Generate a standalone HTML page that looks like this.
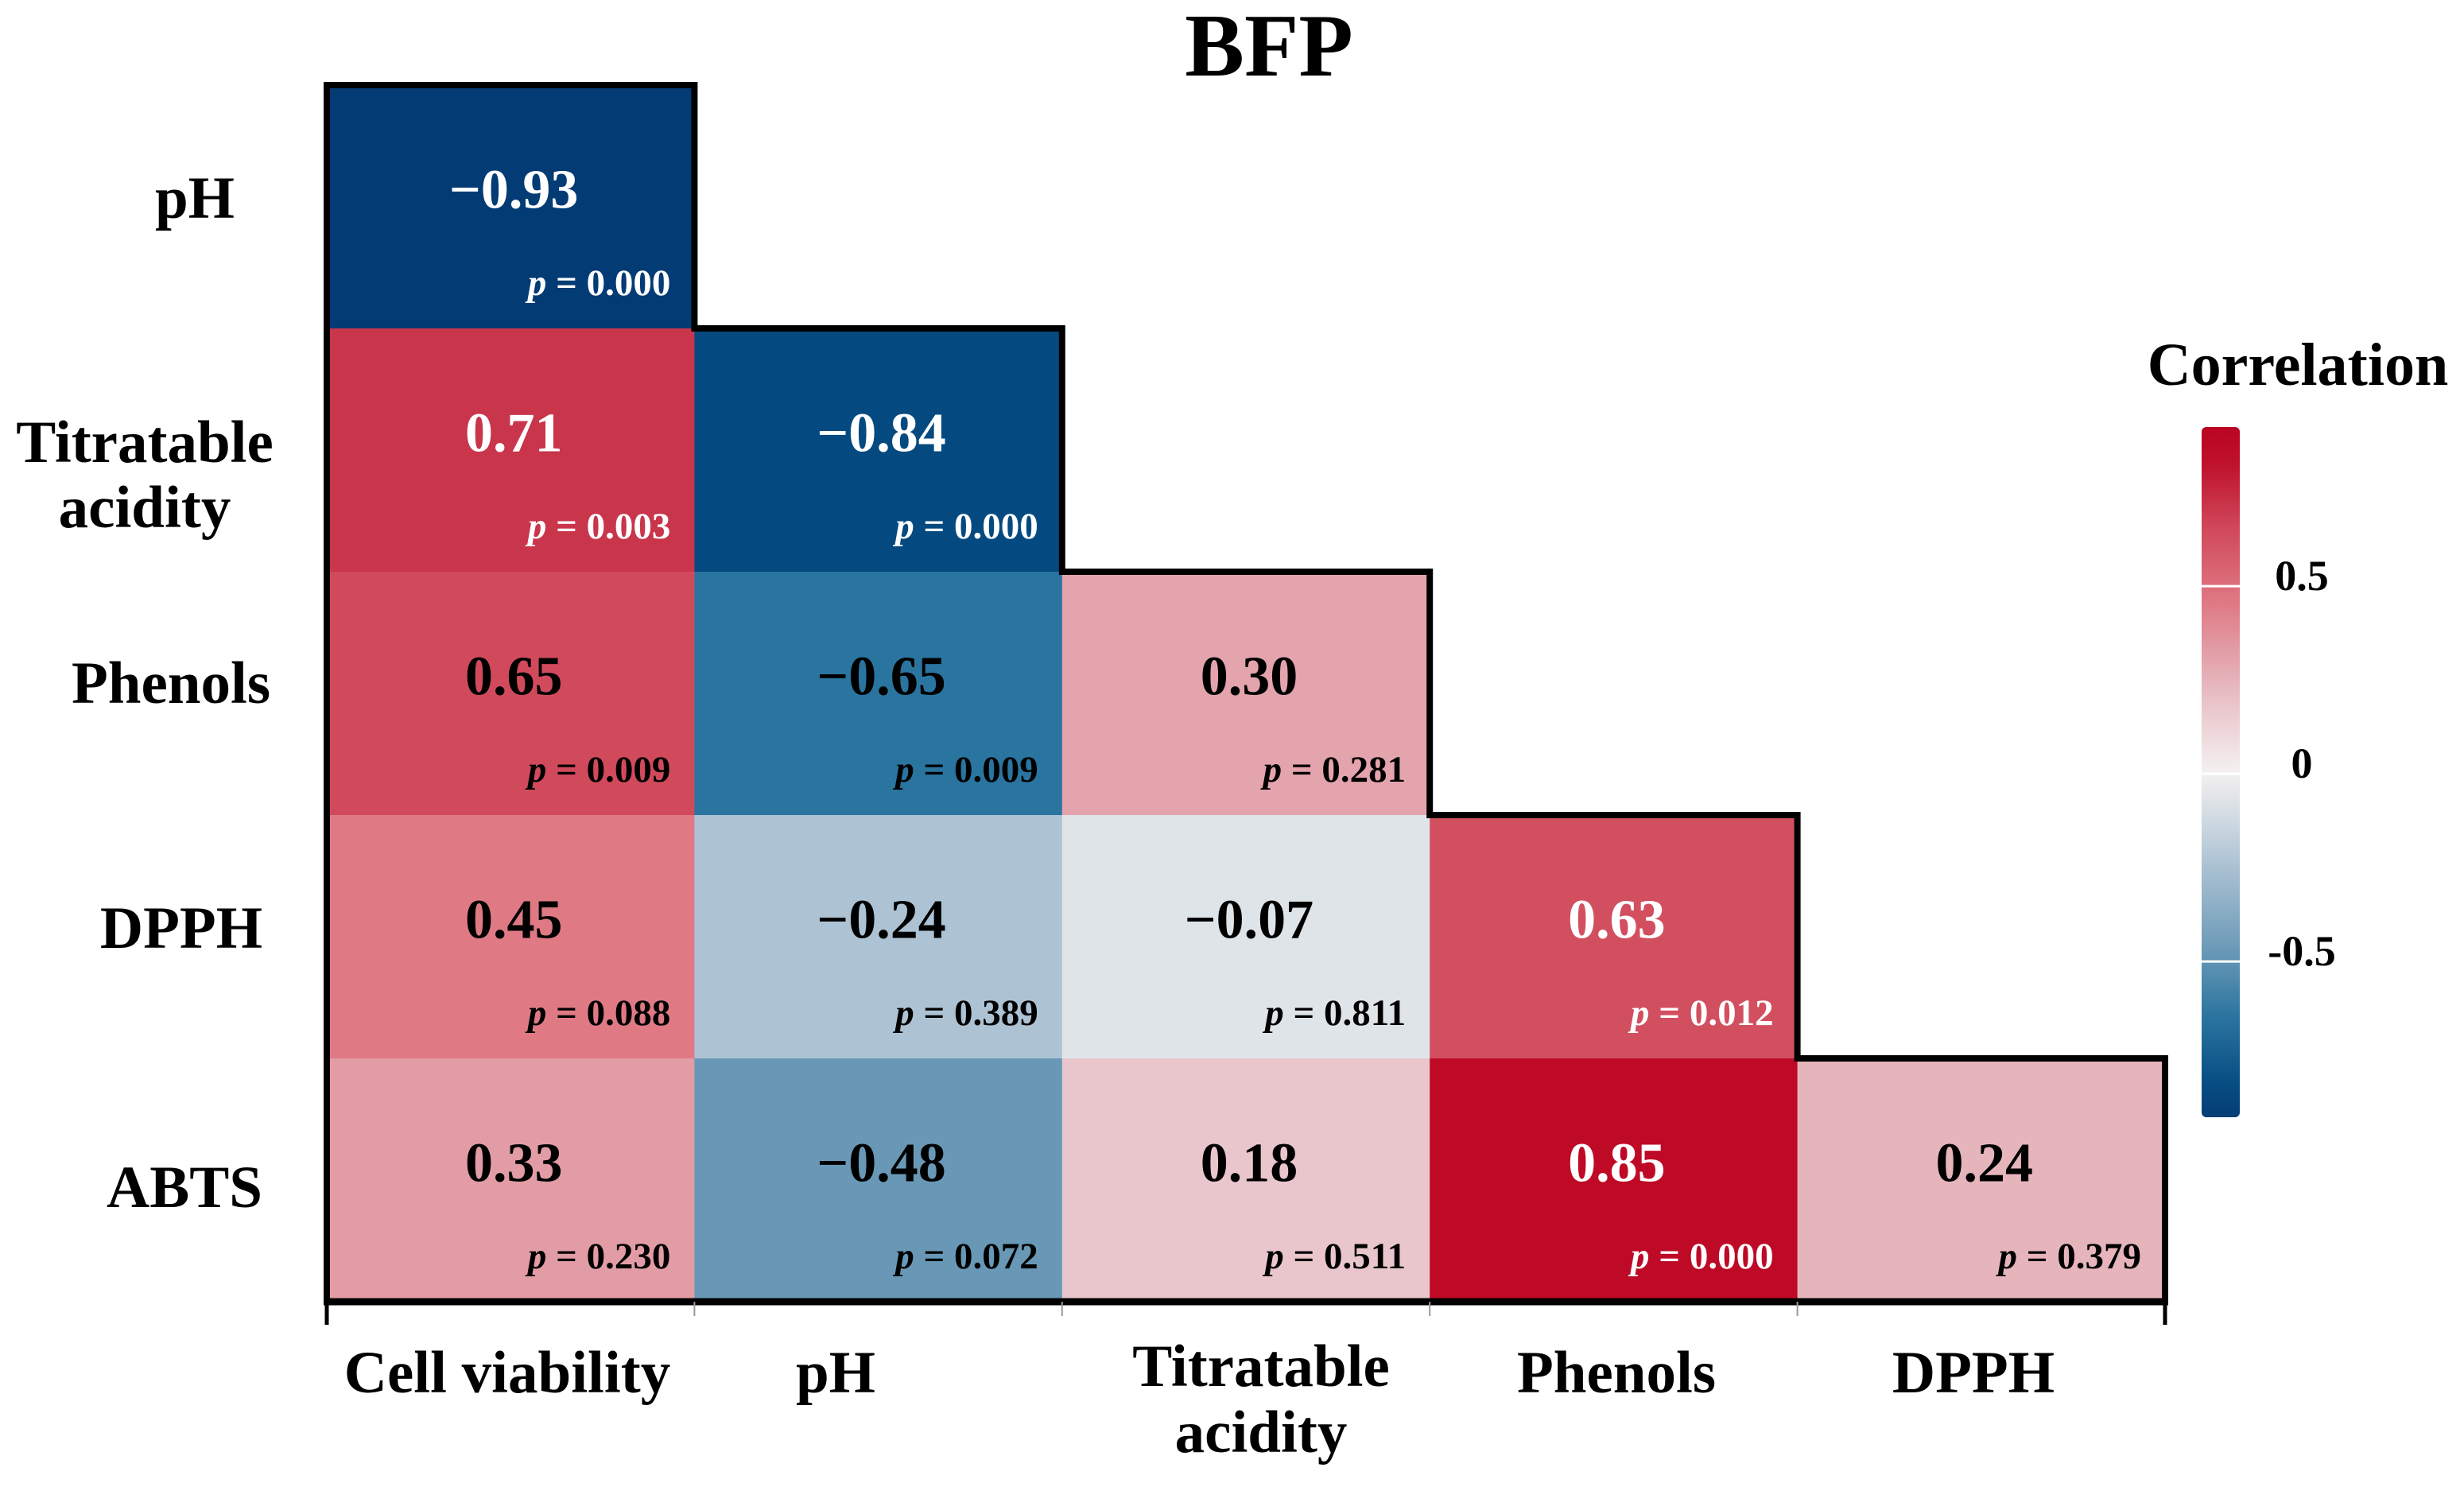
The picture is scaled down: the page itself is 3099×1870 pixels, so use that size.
<!DOCTYPE html>
<html><head><meta charset="utf-8"><style>
html,body{margin:0;padding:0;background:#fff;}
svg{display:block;font-family:"Liberation Serif",serif;}
</style></head><body>
<svg id="chart" width="3099" height="1870" viewBox="0 0 3099 1870" xmlns="http://www.w3.org/2000/svg">
<text x="1596" y="95" text-anchor="middle" font-size="112" font-weight="bold">BFP</text>
<g id="cells"></g>
<g id="outline"></g>
<g id="labels"></g>
<g id="legend"></g>
</svg>
<script>
const rowLabels = [["pH"],["Titratable","acidity"],["Phenols"],["DPPH"],["ABTS"]];
const colLabels = [["Cell viability"],["pH"],["Titratable","acidity"],["Phenols"],["DPPH"]];
const rVals = [
  [-0.93],
  [0.71,-0.84],
  [0.65,-0.65,0.30],
  [0.45,-0.24,-0.07,0.63],
  [0.33,-0.48,0.18,0.85,0.24]
];
const pVals = [
  ["0.000"],
  ["0.003","0.000"],
  ["0.009","0.009","0.281"],
  ["0.088","0.389","0.811","0.012"],
  ["0.230","0.072","0.511","0.000","0.379"]
];
const whiteText = [
  [1],[1,1],[0,0,0],[0,0,0,1],[0,0,0,1,0]
];
const legendTicks = [0.5,0,-0.5];
const legendTickLabels = ["0.5","0","-0.5"];

const NS="http://www.w3.org/2000/svg";
const x0=411,x1=2723,y0=107,y1=1637;
const cw=(x1-x0)/5, rh=(y1-y0)/5;
const xCol=i=>x0+i*cw, yRow=j=>y0+j*rh;
const stops=[[-1,[3,48,106]],[-0.84,[4,74,128]],[-0.65,[42,116,160]],[-0.48,[104,152,182]],[-0.24,[173,195,212]],[0,[244,241,241]],[0.18,[233,198,203]],[0.3,[227,164,173]],[0.45,[223,122,133]],[0.65,[209,74,92]],[0.71,[201,53,75]],[0.85,[190,10,38]],[1,[180,0,30]]];
function color(v){
  for(let i=0;i<stops.length-1;i++){
    const [a,ca]=stops[i],[b,cb]=stops[i+1];
    if(v>=a&&v<=b){const t=(v-a)/(b-a);return "rgb("+ca.map((c,k)=>Math.round(c+(cb[k]-c)*t)).join(",")+")";}
  }
  return v<0?"rgb(3,48,106)":"rgb(180,0,30)";
}
function mk(tag,attrs,parent){const e=document.createElementNS(NS,tag);for(const k in attrs)e.setAttribute(k,attrs[k]);parent.appendChild(e);return e;}
const cells=document.getElementById('cells');
rVals.forEach((row,j)=>row.forEach((v,i)=>{
  const r=mk('rect',{x:xCol(i),y:yRow(j),width:cw+1,height:rh+1,fill:color(v)},cells);
  
  
  const tc=whiteText[j][i]?"#fff":"#000";
  const t=mk('text',{x:xCol(i)+cw/2+4,y:yRow(j)+rh*0.44+20,'text-anchor':'middle','font-size':70,'font-weight':'bold',fill:tc},cells);
  t.textContent=(v<0?"\u2212":"")+Math.abs(v).toFixed(2);
  
  
  const p=mk('text',{x:xCol(i)+cw-30,y:yRow(j)+rh-42,'text-anchor':'end','font-size':47,'font-weight':'bold',fill:tc},cells);
  p.innerHTML='<tspan font-style="italic">p</tspan> = '+pVals[j][i];
  
  
}));
const ol=document.getElementById('outline');
let d="M"+x0+","+y1+" L"+x0+","+yRow(0);
for(let k=0;k<5;k++){d+=" L"+xCol(k+1)+","+yRow(k)+" L"+xCol(k+1)+","+yRow(k+1);}
const path=mk('path',{d:d,fill:'none',stroke:'#000','stroke-width':8,'stroke-linejoin':'miter'},ol);


const ax=mk('line',{x1:x0-4,y1:y1,x2:x1+4,y2:y1,stroke:'#000','stroke-width':9},ol);


for(let k=0;k<=5;k++){
  const edge=(k==0||k==5);
  const tk=mk('line',{x1:xCol(k),y1:y1,x2:xCol(k),y2:edge?1666:1655,stroke:edge?'#000':'#999','stroke-width':edge?5:2},ol);
  
  
}
const lg=document.getElementById('labels');
const rowLx=[245,182,215,228,232];
const rowDy=[-10,38,-12,-10,10];
rowLabels.forEach((lines,j)=>{
  const cy=yRow(j)+rh*0.5;
  lines.forEach((s,n)=>{
    const t=mk('text',{x:rowLx[j],y:cy+24+rowDy[j]+(n-(lines.length-1)/2)*82-(lines.length>1?6:0),'text-anchor':'middle','font-size':75,'font-weight':'bold'},lg);
    t.textContent=s;
    
    
  });
});
colLabels.forEach((lines,i)=>{
  const cx=[648,1061,1596,2043,2492][i]-10;
  lines.forEach((s,n)=>{
    const t=mk('text',{x:cx,y:(lines.length>1?1743:1751)+n*83,'text-anchor':'middle','font-size':75,'font-weight':'bold'},lg);
    t.textContent=s;
    
    
  });
});
const L=document.getElementById('legend');
const lx=2769,lw=48,ly0=537,ly1=1405,vmax=0.924,vmin=-0.915;
const ly=v=>ly0+(vmax-v)/(vmax-vmin)*(ly1-ly0);
const defs=mk('defs',{},L);
const grad=mk('linearGradient',{id:'cg',x1:0,y1:0,x2:0,y2:1},defs);
for(let k=0;k<=20;k++){const v=vmax-(vmax-vmin)*k/20;mk('stop',{offset:(k/20),'stop-color':color(v)},grad);}
const bar=mk('rect',{x:lx,y:ly0,width:lw,height:ly1-ly0,rx:6,fill:'url(#cg)'},L);


const lt=mk('text',{x:2890,y:484,'text-anchor':'middle','font-size':76,'font-weight':'bold'},L);
lt.textContent="Correlation";


legendTicks.forEach((v,k)=>{
  const tl=mk('line',{x1:lx,y1:ly(v),x2:lx+lw,y2:ly(v),stroke:'#fff','stroke-width':3},L);
  
  
  const t=mk('text',{x:2895,y:ly(v)+5,'text-anchor':'middle','font-size':54,'font-weight':'bold'},L);
  t.textContent=legendTickLabels[k];
  
  
});
</script>
</body></html>
